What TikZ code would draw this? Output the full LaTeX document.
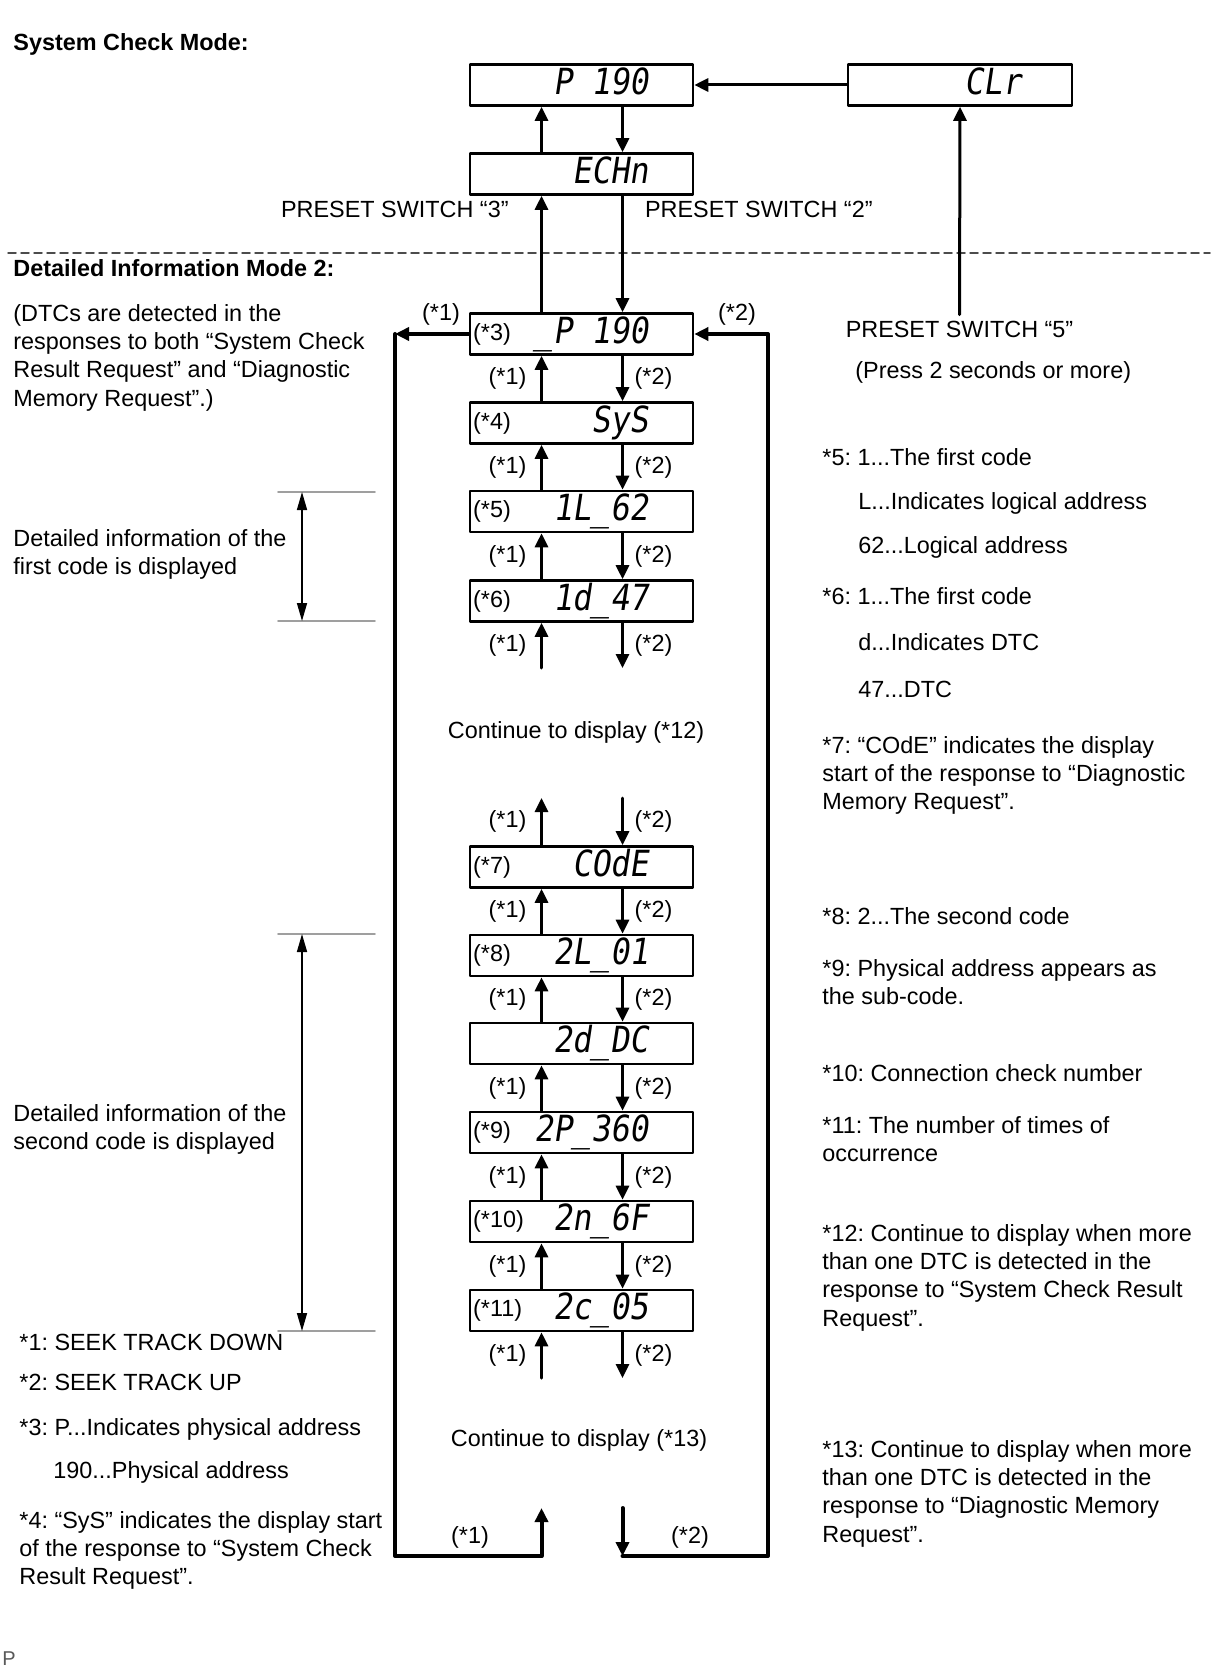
\documentclass[tikz,border=0pt]{standalone}
\usepackage{fontspec}
\setmainfont{Liberation Sans}
\newfontfamily\segfont[FakeSlant=0.15,FakeStretch=0.88]{DejaVu Sans Mono}
\frenchspacing
\usetikzlibrary{arrows.meta}

\begin{document}
\begin{tikzpicture}[line cap=round,line join=round,>={Triangle[length=7pt,width=6.5pt]},x=0.5pt,y=-0.5pt,
    font=\fontsize{11.7}{14.15}\selectfont,
    disp/.style={draw, line width=1.3pt, minimum width=111.5pt, minimum height=20.5pt, inner sep=0pt},
    seg/.style={anchor=east, xshift=-22.5pt, inner sep=0pt, text height=13.1pt, text depth=3.9pt, font=\segfont\fontsize{18}{18}\selectfont},
    tag/.style={anchor=west, xshift=2pt, inner sep=0pt},
    conn/.style={line width=1.5pt},
    loopline/.style={line width=2pt},
    note/.style={anchor=north west, inner sep=0pt, align=left},
    dim/.style={line width=0.8pt, >={Triangle[length=9pt,width=5pt]}, <->},
    brk/.style={draw=gray!75, line width=0.8pt}]
    \useasboundingbox (0,0) rectangle (1210,1668);

    % system check mode
    \node[note, font=\bfseries\fontsize{11.7}{14.15}\selectfont] at (13,33) {System Check Mode:};
    \node[disp, label={[seg]east:{P 190}}] (p190) at (581.5,85) {};
    \node[disp, label={[seg]east:{ECHn}}] (echn) at (581.5,174) {};
    \node[disp, minimum width=112pt, label={[seg, xshift=-3pt]east:{CLr}}] (clr) at (960,85) {};
    \node[anchor=base west] at (274,218) {PRESET SWITCH “3”};
    \node[anchor=base west] at (638,218) {PRESET SWITCH “2”};
    \node[anchor=base] (sw5) at (959.5,338) {PRESET SWITCH “5”};
    \node[note] at (855,361) {(Press 2 seconds or more)};

    \draw[dashed, dash pattern=on 4pt off 2.5pt, gray!60!black, line width=0.75pt] (8,253) -- (1210,253);
    \node[note, font=\bfseries\fontsize{11.7}{14.15}\selectfont] at (13,259) {Detailed Information Mode 2:};

    % detailed information mode 2
    \node[disp, label={[tag]west:{(*3)}}, label={[seg]east:{\_P 190}}] (d3) at (581.5,334) {};
    \node[disp, label={[tag]west:{(*4)}}, label={[seg]east:{SyS}}] (d4) at (581.5,423) {};
    \node[disp, label={[tag]west:{(*5)}}, label={[seg]east:{1L\_62}}] (d5) at (581.5,511.5) {};
    \node[disp, label={[tag]west:{(*6)}}, label={[seg]east:{1d\_47}}] (d6) at (581.5,601) {};
    \node[disp, label={[tag]west:{(*7)}}, label={[seg]east:{COdE}}] (d7) at (581.5,867) {};
    \node[disp, label={[tag]west:{(*8)}}, label={[seg]east:{2L\_01}}] (d8) at (581.5,955.5) {};
    \node[disp, label={[seg]east:{2d\_DC}}] (dd) at (581.5,1043.5) {};
    \node[disp, label={[tag]west:{(*9)}}, label={[seg]east:{2P\_360}}] (d9) at (581.5,1132.5) {};
    \node[disp, label={[tag]west:{(*10)}}, label={[seg]east:{2n\_6F}}] (d10) at (581.5,1221.5) {};
    \node[disp, label={[tag]west:{(*11)}}, label={[seg]east:{2c\_05}}] (d11) at (581.5,1310.5) {};

    \node[anchor=base] at (576,738) {Continue to display (*12)};
    \node[anchor=base] at (579,1446) {Continue to display (*13)};

    \coordinate (u6) at (541.5,668);   \coordinate (v6) at (622.5,668);
    \coordinate (u7) at (541.5,798);   \coordinate (v7) at (622.5,798);
    \coordinate (u11) at (541.5,1378); \coordinate (v11) at (622.5,1378);
    \coordinate (ub) at (541.5,1508);  \coordinate (vb) at (622.5,1508);
    \coordinate (tl) at (395,334);     \coordinate (tr) at (768,334);
    \coordinate (bl) at (395,1556);    \coordinate (br) at (768,1556);

    \draw[conn,->] ([xshift=-20pt]echn.north) -- ([xshift=-20pt]p190.south);
    \draw[conn,->] ([xshift=20.5pt]p190.south) -- ([xshift=20.5pt]echn.north);
    \draw[conn,->] ([xshift=-20pt]d3.north) -- ([xshift=-20pt]echn.south);
    \draw[conn,->] ([xshift=20.5pt]echn.south) -- ([xshift=20.5pt]d3.north);
    \draw[conn,->] (clr.west) -- (p190.east);
    \draw[conn,->] (sw5.north) -- (clr.south);

    \foreach \a/\b in {d3/d4, d4/d5, d5/d6, d7/d8, d8/dd, dd/d9, d9/d10, d10/d11}{
        \draw[conn,->] ([xshift=-20pt]\b.north) -- ([xshift=-20pt]\a.south) node[midway, left=3.5pt] {(*1)};
        \draw[conn,->] ([xshift=20.5pt]\a.south) -- ([xshift=20.5pt]\b.north) node[midway, right=2pt] {(*2)};
    }

    \draw[conn,->] (u6) -- ([xshift=-20pt]d6.south) node[midway, left=3.5pt] {(*1)};
    \draw[conn,->] ([xshift=20.5pt]d6.south) -- (v6) node[midway, right=2pt] {(*2)};
    \draw[conn,->] ([xshift=-20pt]d7.north) -- (u7) node[midway, left=3.5pt] {(*1)};
    \draw[conn,->] (v7) -- ([xshift=20.5pt]d7.north) node[midway, right=2pt] {(*2)};
    \draw[conn,->] (u11) -- ([xshift=-20pt]d11.south) node[midway, left=3.5pt] {(*1)};
    \draw[conn,->] ([xshift=20.5pt]d11.south) -- (v11) node[midway, right=2pt] {(*2)};

    % outer loop
    \draw[loopline,->] (d3.west) -- (tl);
    \draw[loopline,->] (tl) -- (bl) -| (ub);
    \draw[loopline,->] (vb) -- (vb |- bl);
    \draw[loopline,->] (vb |- bl) -- (br) -- (tr) -- (d3.east);
    \node at (441,314) {(*1)};
    \node at (737,314) {(*2)};
    \node at (470,1537) {(*1)};
    \node at (690,1537) {(*2)};

    % brackets
    \coordinate (b1t) at (302,492);  \coordinate (b1b) at (302,621);
    \coordinate (b2t) at (302,934);  \coordinate (b2b) at (302,1331);
    \draw[brk] (278,492) -- (375,492);
    \draw[brk] (278,621) -- (375,621);
    \draw[brk] (278,934) -- (375,934);
    \draw[brk] (278,1331) -- (375,1331);
    \draw[dim] (b1t) -- (b1b);
    \draw[dim] (b2t) -- (b2b);

    % left notes
    \node[note] at (13,304) {(DTCs are detected in the\\responses to both “System Check\\Result Request” and “Diagnostic\\Memory Request”.)};
    \node[note] at (13,529) {Detailed information of the\\first code is displayed};
    \node[note] at (13,1104) {Detailed information of the\\second code is displayed};
    \node[note] at (19,1334) {*1: SEEK TRACK DOWN};
    \node[note] at (19,1374) {*2: SEEK TRACK UP};
    \node[note] at (19,1418) {*3: P...Indicates physical address};
    \node[note] at (53,1461) {190...Physical address};
    \node[note] at (19,1511) {*4: “SyS” indicates the display start\\of the response to “System Check\\Result Request”.};

    % right notes
    \node[note] at (822,448) {*5: 1...The first code};
    \node[note] at (858,492) {L...Indicates logical address};
    \node[note] at (858,536) {62...Logical address};
    \node[note] at (822,587) {*6: 1...The first code};
    \node[note] at (858,633) {d...Indicates DTC};
    \node[note] at (858,681) {47...DTC};
    \node[note] at (822,736) {*7: “COdE” indicates the display\\start of the response to “Diagnostic\\Memory Request”.};
    \node[note] at (822,907) {*8: 2...The second code};
    \node[note] at (822,959) {*9: Physical address appears as\\the sub-code.};
    \node[note] at (822,1064) {*10: Connection check number};
    \node[note] at (822,1116) {*11: The number of times of\\occurrence};
    \node[note] at (822,1224) {*12: Continue to display when more\\than one DTC is detected in the\\response to “System Check Result\\Request”.};
    \node[note] at (822,1440) {*13: Continue to display when more\\than one DTC is detected in the\\response to “Diagnostic Memory\\Request”.};

    \node[anchor=base west, inner sep=0pt, text=gray!70!black, font=\fontsize{10}{12}\selectfont] at (2,1665) {P};
\end{tikzpicture}
\end{document}
